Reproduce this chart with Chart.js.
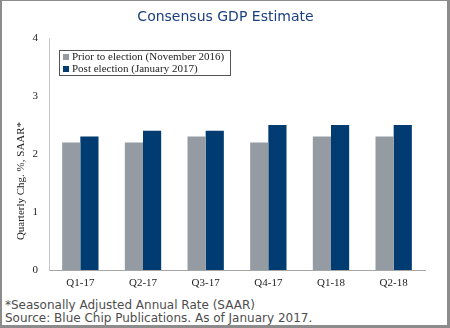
<!DOCTYPE html>
<html>
<head>
<meta charset="utf-8">
<script src="https://cdn.jsdelivr.net/npm/chart.js@4/dist/chart.umd.min.js"></script>
<style>
    body { margin: 0; background: #fff; }
    #frame { position: absolute; left: 0; top: 0; width: 450px; height: 328px; box-sizing: border-box;
             border: 2px solid #8c8c8c; border-top-width: 1px; border-right-width: 3px; border-bottom-width: 3px; pointer-events: none; }
    #wrap { position: absolute; left: 0; top: 0; width: 450px; height: 292px; }
    #title { position: absolute; left: 0; top: 8px; width: 451px; text-align: center; font-family: 'DejaVu Sans', Verdana, sans-serif;
             font-size: 14px; color: #1b3f7e; }
    .note { position: absolute; left: 5px; font-family: 'DejaVu Sans', Verdana, sans-serif; font-size: 12px; line-height: 14px; color: #4d4d4d; white-space: nowrap; }
</style>
</head>
<body>
<div id="wrap"><canvas id="gdp"></canvas></div>
<div id="title">Consensus GDP Estimate</div>
<div class="note" style="top:298px;">*Seasonally Adjusted Annual Rate (SAAR)</div>
<div class="note" style="top:311px;">Source: Blue Chip Publications. As of January 2017.</div>
<div id="frame"></div>
<script>
// quarters on the x axis
const quarters = ['Q1-17', 'Q2-17', 'Q3-17', 'Q4-17', 'Q1-18', 'Q2-18'];
// estimates before the election (Nov 2016)
const priorValues = [2.2, 2.2, 2.3, 2.2, 2.3, 2.3];
// estimates after the election (Jan 2017)
const postValues = [2.3, 2.4, 2.4, 2.5, 2.5, 2.5];
const yTicks = [0, 1, 2, 3, 4];

const serif = "'Liberation Serif', 'Times New Roman', serif";

// legend in a box, inside the plot
const boxLegend = {
    id: 'boxLegend',
    afterDraw(chart) {
        let ctx = chart.ctx;
        ctx.save();
        ctx.strokeStyle = '#555';
        ctx.lineWidth = 1;
        ctx.strokeRect(59.5, 50.5, 171, 25);
        ctx.font = '11px ' + serif;
        ctx.textBaseline = 'middle';
        chart.data.datasets.forEach((ds, i) => {
            let y = 57 + i * 12;
            ctx.fillStyle = ds.backgroundColor;
            ctx.fillRect(63, y - 3, 6, 6);
            ctx.fillStyle = '#222';
            ctx.fillText(ds.label, 72, y + 0.5);
        });
        ctx.restore();
    }
};

// rotated y axis title, sits a bit lower than centre like the original
const yTitle = {
    id: 'yTitle',
    afterDraw(chart) {
        let ctx = chart.ctx;
        ctx.save();
        ctx.translate(21, 181);
        ctx.rotate(-Math.PI / 2);
        ctx.font = '11px ' + serif;
        ctx.fillStyle = '#222';
        ctx.textAlign = 'center';
        ctx.textBaseline = 'middle';
        ctx.fillText('Quarterly Chg. %, SAAR*', 0, 0);
        ctx.restore();
    }
};

new Chart(document.getElementById('gdp'), {
    type: 'bar',
    data: {
        labels: quarters,
        datasets: [
            { label: 'Prior to election (November 2016)', data: priorValues, backgroundColor: '#949ba2' },
            { label: 'Post election (January 2017)', data: postValues, backgroundColor: '#003b71' }
        ]
    },
    options: {
        responsive: true,
        maintainAspectRatio: false,
        animation: false,
        layout: { padding: { left: 0, right: 25, top: 38, bottom: 0 } },
        datasets: { bar: { categoryPercentage: 0.58, barPercentage: 1.0 } },
        plugins: {
            legend: { display: false },
            tooltip: { enabled: false },
            title: { display: false }
        },
        scales: {
            x: {
                grid: { display: false, drawTicks: false },
                border: { display: true, color: '#a6a6a6', width: 1 },
                ticks: { color: '#222', font: { family: serif, size: 11 }, padding: 7 },
                afterFit(scale) { scale.height = 22; }
            },
            y: {
                min: 0,
                max: 4,
                afterBuildTicks(scale) { scale.ticks = yTicks.map(v => ({ value: v })); },
                grid: { display: false, drawTicks: false },
                border: { display: true, color: '#c8c8c8', width: 1 },
                ticks: { color: '#222', font: { family: serif, size: 11 }, padding: 11 },
                afterFit(scale) { scale.width = 49; }
            }
        }
    },
    plugins: [boxLegend, yTitle]
});
</script>
</body>
</html>
